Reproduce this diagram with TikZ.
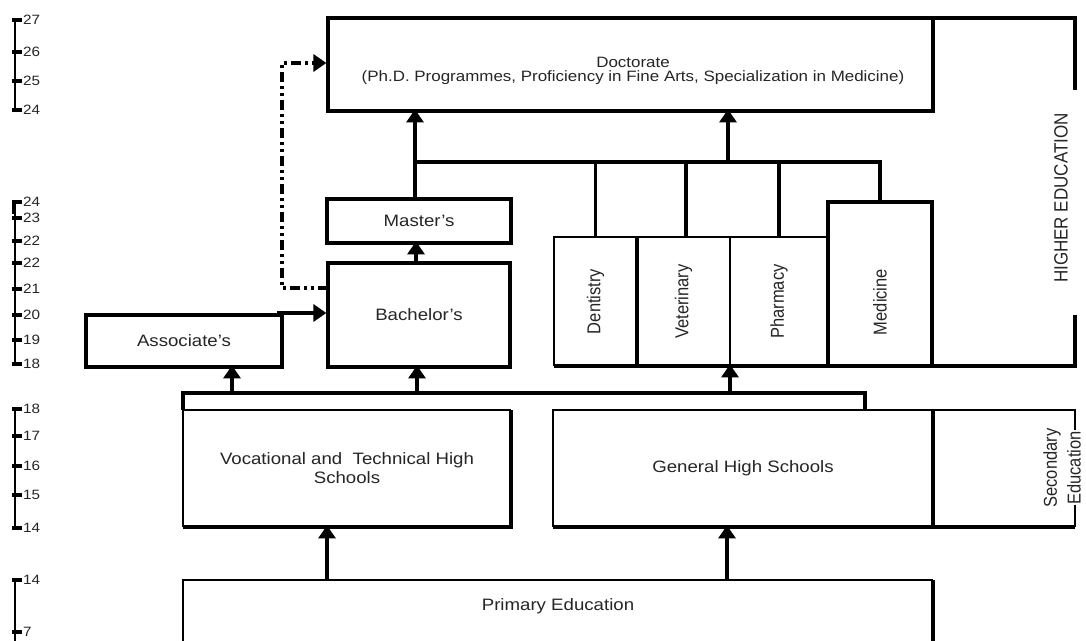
\documentclass[tikz,border=0pt]{standalone}
\usepackage{fontspec}
\usepackage{graphicx}
\setmainfont{Liberation Sans}[FakeStretch=1.13]
\newfontfamily\rotfont{Liberation Sans}
\usetikzlibrary{arrows.meta}
\newcommand{\rottext}[1]{\rotatebox{90}{\scalebox{1}[1.13]{#1}}}
\begin{document}
\begin{tikzpicture}[x=1pt,y=-1pt,
  heavy/.style={line width=3.3pt},
  light/.style={line width=1.6pt},
  txt/.style={font=\fontsize{16.5}{19}\selectfont, inner sep=0pt, outer sep=0pt, align=center, text=black!85},
  boxk/.style={draw, heavy, txt},
  plain/.style={txt},
  rplain/.style={txt, font=\rotfont\fontsize{16.5}{19}\selectfont},
  arr/.style={line width=3.2pt, -{Triangle[width=17pt,length=13pt]}},
  dd/.style={line width=3.4pt, dash pattern=on 10pt off 4pt on 3pt off 4pt on 3pt off 4pt, -{Triangle[width=17pt,length=13pt]}},
  sline/.style={line width=2.4pt},
  stick/.style={line width=3.4pt},
  slab/.style={anchor=west, inner sep=1pt, text=black!85, font=\fontsize{13.5}{15}\selectfont},
]
\fill[white] (0,0) rectangle (1086,640);
\useasboundingbox (0,0) rectangle (1086,640);

% ---------- scales ----------
\draw[sline] (15,20) -- (15,110);
\foreach \y/\t [count=\i] in {20/27,52/26,81/25,110/24}
  {\draw[stick] (12,\y) -- (22,\y); \node[slab] (sa\i) at (22,\y) {\t};}
\draw[sline] (15,202) -- (15,364);
\draw[stick] (14,202) -- (14,214);
\foreach \y/\t [count=\i] in {202/24,218/23,241/22,263/22,289/21,315/20,340/19,364/18}
  {\draw[stick] (12,\y) -- (22,\y); \node[slab] (sb\i) at (22,\y) {\t};}
\draw[sline] (15,409) -- (15,528);
\foreach \y/\t [count=\i] in {409/18,436/17,466/16,495/15,528/14}
  {\draw[stick] (12,\y) -- (22,\y); \node[slab] (sc\i) at (22,\y) {\t};}
\draw[sline] (15,580) -- (15,642);
\foreach \y/\t [count=\i] in {580/14,632/7}
  {\draw[stick] (12,\y) -- (22,\y); \node[slab] (sd\i) at (22,\y) {\t};}

% ---------- higher education boxes ----------
\node[boxk, minimum width=605, minimum height=93] (doc) at (630.5,64.5) {};
\node[txt, font=\fontsize{15}{14}\selectfont] (doct) at (633,71)
  {Doctorate\\(Ph.D. Programmes, Proficiency in Fine Arts, Specialization in Medicine)};
\node[boxk, minimum width=184, minimum height=44] (mas) at (419,221) {Master's};
\node[boxk, minimum width=182, minimum height=104] (bach) at (419,315) {Bachelor's};
\node[boxk, minimum width=196, minimum height=52] (assoc) at (184,341) {Associate's};

\node[rplain, minimum width=83, minimum height=129] (dent) at (595.5,301.5) {\rottext{Dentistry}};
\node[rplain, minimum width=93, minimum height=129] (vet) at (683.5,301.5) {\rottext{Veterinary}};
\node[rplain, minimum width=98, minimum height=129] (pharm) at (779,301.5) {\rottext{Pharmacy}};
\node[rplain, minimum width=104, minimum height=164] (med) at (880,284) {};
\node[rplain] (medt) at (880,302) {\rottext{Medicine}};

\draw[light] (dent.south west) -- (dent.north west) -- (pharm.north east);
\draw[heavy] (vet.north west) -- (vet.south west);
\draw[light] (pharm.north west) -- (pharm.south west);
\draw[heavy] (med.south west) -- (med.north west) -- (med.north east) -- (med.south east);
\draw[heavy] (dent.south west) -- (med.south east);

% ---------- higher education bracket ----------
\coordinate (he1) at (1075,18);
\coordinate (he2) at (1075,90);
\coordinate (he3) at (1075,315);
\coordinate (he4) at (1075,366);
\draw[heavy] (doc.north east) -- (he1) -- (he2);
\draw[heavy] (he3) -- (he4) -- (med.south east);
\node[rplain, font=\rotfont\fontsize{17}{20}\selectfont] (het) at (1061,198) {\rottext{HIGHER EDUCATION}};

% ---------- secondary ----------
\node[plain, minimum width=328, minimum height=117] (voc) at (347,468.5) {Vocational and\ \ Technical High\\Schools};
\node[plain, minimum width=380, minimum height=117] (gen) at (743,468.5) {General High Schools};
\node[plain, minimum width=142, minimum height=117] (sec) at (1004,468.5) {};
\node[rplain, font=\rotfont\fontsize{16.5}{21}\selectfont] (sect) at (1064,468)
  {\rottext{\begin{tabular}{@{}c@{}}Secondary\\Education\end{tabular}}};

\draw[light] (voc.south west) -- (voc.north west) -- (voc.north east);
\draw[heavy] (voc.north east) -- (voc.south east) -- (voc.south west);
\draw[light] (gen.south west) -- (gen.north west) -- (gen.north east);
\draw[heavy] (gen.north east) -- (gen.south east) -- (gen.south west);
\coordinate (secA) at (1075,430);
\coordinate (secB) at (1075,505);
\draw[light] (gen.north east) -- (sec.north east) -- (secA);
\draw[light] (secB) -- (sec.south east);
\draw[heavy] (gen.south east) -- (sec.south east);

% ---------- primary ----------
\node[plain, minimum width=750, minimum height=52] (prim) at (558,606) {Primary Education};
\coordinate (pbl) at (183,645);
\coordinate (pbr) at (933,645);
\draw[light] (pbl) -- (prim.north west) -- (prim.north east);
\draw[heavy] (prim.north east) -- (pbr);

% ---------- bar over secondary ----------
\coordinate (barL) at (183,393);
\coordinate (barR) at (865,393);
\draw[heavy] (voc.north west) -- (barL) -- (barR) -- (barR |- gen.north);

% ---------- arrows ----------
\coordinate (xa) at (232,393);
\coordinate (xb) at (417,393);
\coordinate (xc) at (730,393);
\draw[arr] (xa) -- ([yshift=1.6pt]assoc.south -| xa);
\draw[arr] (xb) -- ([yshift=1.6pt]bach.south -| xb);
\draw[arr] (xc) -- ([yshift=1.6pt]pharm.south west);

\coordinate (xd) at (327,0);
\coordinate (xe) at (727,0);
\draw[arr] (prim.north -| xd) -- ([yshift=1.6pt]voc.south -| xd);
\draw[arr] (prim.north -| xe) -- ([yshift=1.6pt]gen.south -| xe);

\coordinate (xf) at (416,0);
\draw[arr] (bach.north -| xf) -- ([yshift=1.6pt]mas.south -| xf);

\coordinate (hL) at (415,162);
\coordinate (hR) at (880,162);
\draw[heavy] (mas.north -| hL) -- (hL) -- (hR) -- (med.north);
\draw[arr] (hL) -- ([yshift=1.6pt]doc.south -| hL);
\coordinate (xg) at (728,162);
\draw[arr] (xg) -- ([yshift=1.6pt]doc.south -| xg);
\draw[heavy] (hL -| dent.north) -- (dent.north);
\coordinate (xv) at (686,162);
\draw[heavy] (xv) -- (vet.north -| xv);
\draw[heavy] (hL -| pharm.north) -- (pharm.north);

\coordinate (ab) at (277,313);
\draw[arr] (ab) -- ([xshift=-1.6pt]bach.west |- ab);
\coordinate (d1) at (282,288);
\coordinate (d2) at (282,63);
\draw[dd] (bach.west |- d1) -- (d1) -- (d2) -- ([xshift=-1.6pt]doc.west |- d2);
\end{tikzpicture}
\end{document}
